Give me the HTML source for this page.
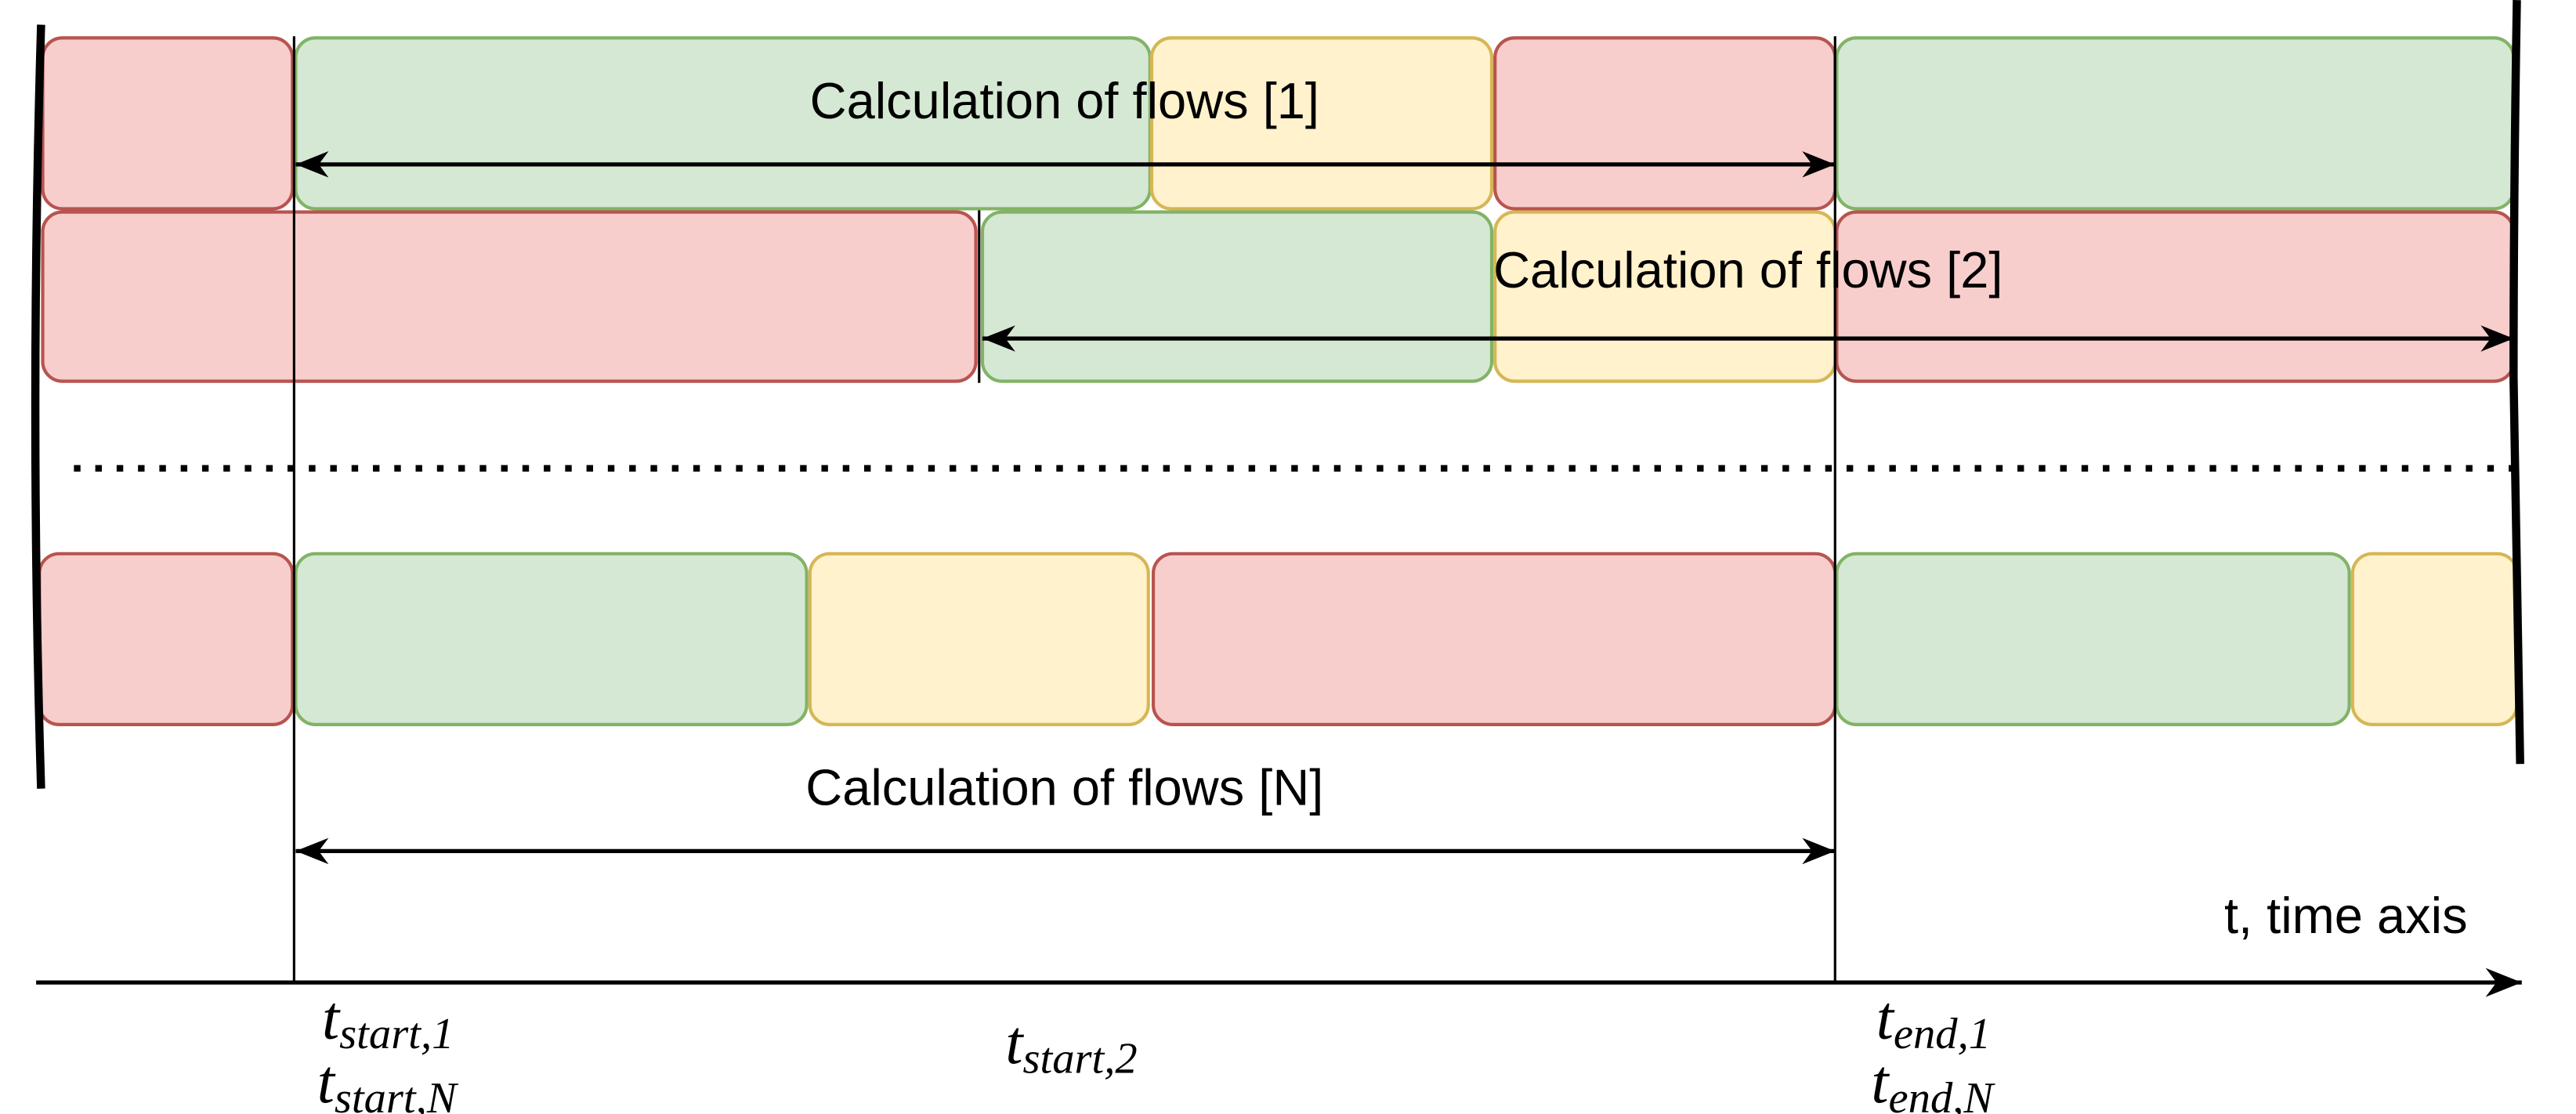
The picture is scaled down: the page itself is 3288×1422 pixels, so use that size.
<!DOCTYPE html>
<html><head><meta charset="utf-8"><style>
html,body{margin:0;padding:0;background:#fff}
svg{display:block}
.r{fill:#f8cecc;stroke:#b85450;stroke-width:2}
.g{fill:#d5e8d4;stroke:#82b366;stroke-width:2}
.y{fill:#fff2cc;stroke:#d6b656;stroke-width:2}
.lbl{font-family:"Liberation Sans",sans-serif;font-size:31px;fill:#000}
.m{font-family:"Liberation Serif",serif;font-style:italic;fill:#000}
</style></head><body>
<svg width="3288" height="1422" viewBox="0 0 1568 678" xmlns="http://www.w3.org/2000/svg">
<defs>
<marker id="ah" viewBox="0 0 10 10" refX="10" refY="5" markerWidth="20" markerHeight="20" markerUnits="userSpaceOnUse" orient="auto-start-reverse">
<path d="M0,1 L10,5 L0,9 L3,5 Z" fill="#000"/>
</marker>
<marker id="ah2" viewBox="0 0 10 10" refX="10" refY="5" markerWidth="22" markerHeight="22" markerUnits="userSpaceOnUse" orient="auto">
<path d="M0,1 L10,5 L0,9 L3,5 Z" fill="#000"/>
</marker>
</defs>
<!-- Row 1 -->
<rect class="r" x="26" y="23" width="152" height="104" rx="12"/>
<rect class="g" x="180" y="23" width="520" height="104" rx="12"/>
<rect class="y" x="701" y="23" width="207" height="104" rx="12"/>
<rect class="r" x="910" y="23" width="207" height="104" rx="12"/>
<rect class="g" x="1118" y="23" width="412" height="104" rx="12"/>
<!-- Row 2 -->
<rect class="r" x="26" y="129" width="568" height="103" rx="12"/>
<rect class="g" x="598" y="129" width="310" height="103" rx="12"/>
<rect class="y" x="910" y="129" width="207" height="103" rx="12"/>
<rect class="r" x="1118" y="129" width="412" height="103" rx="12"/>
<!-- Row N -->
<rect class="r" x="24" y="337" width="154" height="104" rx="12"/>
<rect class="g" x="180" y="337" width="311" height="104" rx="12"/>
<rect class="y" x="493" y="337" width="206" height="104" rx="12"/>
<rect class="r" x="702" y="337" width="415" height="104" rx="12"/>
<rect class="g" x="1118" y="337" width="312" height="104" rx="12"/>
<rect class="y" x="1432" y="337" width="100" height="104" rx="12"/>
<!-- vertical guide lines -->
<line x1="179" y1="22" x2="179" y2="598" stroke="#000" stroke-width="1.5"/>
<line x1="1117" y1="22" x2="1117" y2="598" stroke="#000" stroke-width="1.5"/>
<line x1="596" y1="128" x2="596" y2="233" stroke="#000" stroke-width="1.5"/>
<!-- thick side bars -->
<path d="M25,15 Q18,250 25,480" fill="none" stroke="#000" stroke-width="5"/>
<path d="M1532,0 Q1530,120 1530,230 Q1532,350 1534,465" fill="none" stroke="#000" stroke-width="5"/>
<!-- dotted line -->
<line x1="45" y1="285" x2="1540" y2="285" stroke="#000" stroke-width="4" stroke-dasharray="4,9"/>
<!-- arrows -->
<line x1="180" y1="100" x2="1117" y2="100" stroke="#000" stroke-width="2.5" marker-start="url(#ah)" marker-end="url(#ah)"/>
<line x1="598" y1="206" x2="1530" y2="206" stroke="#000" stroke-width="2.5" marker-start="url(#ah)" marker-end="url(#ah)"/>
<line x1="180" y1="518" x2="1117" y2="518" stroke="#000" stroke-width="2.5" marker-start="url(#ah)" marker-end="url(#ah)"/>
<line x1="22" y1="598" x2="1535" y2="598" stroke="#000" stroke-width="2.5" marker-end="url(#ah2)"/>
<!-- labels -->
<text class="lbl" x="648" y="72" text-anchor="middle">Calculation of flows [1]</text>
<text class="lbl" x="909" y="175">Calculation of flows [2]</text>
<text class="lbl" x="648" y="490" text-anchor="middle">Calculation of flows [N]</text>
<text class="lbl" x="1502" y="568" text-anchor="end">t, time axis</text>
<text class="m" x="196" y="632" font-size="38">t<tspan font-size="27" dy="6">start,1</tspan></text>
<text class="m" x="193" y="671" font-size="38">t<tspan font-size="27" dy="6">start,N</tspan></text>
<text class="m" x="612" y="647" font-size="38">t<tspan font-size="27" dy="6">start,2</tspan></text>
<text class="m" x="1142" y="632" font-size="38">t<tspan font-size="27" dy="6">end,1</tspan></text>
<text class="m" x="1139" y="671" font-size="38">t<tspan font-size="27" dy="6">end,N</tspan></text>
</svg>
</body></html>
